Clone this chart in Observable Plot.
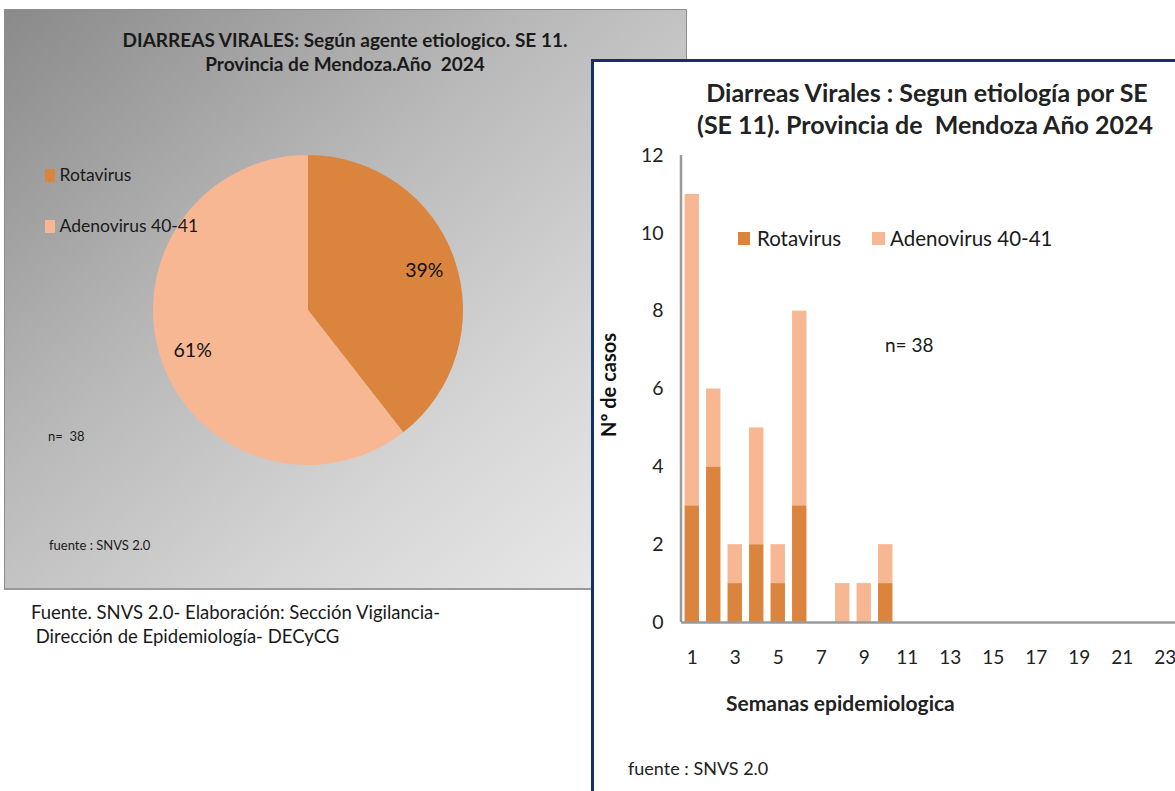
<!DOCTYPE html>
<html>
<head>
<meta charset="utf-8">
<script src="https://cdn.jsdelivr.net/npm/d3@7"></script>
<script src="https://cdn.jsdelivr.net/npm/@observablehq/plot@0.6"></script>
<style>
  html, body { margin:0; padding:0; width:1175px; height:791px; overflow:hidden; background:#fff; font-family: Lato, "Open Sans", sans-serif; color:#1a1a1a; }
  .abs { position:absolute; white-space:pre; line-height:1; }
  #leftPanel { position:absolute; left:4px; top:9px; width:681px; height:578px;
    background: linear-gradient(to bottom right, #8a8a8a 0%, #b9b9b9 40%, #d6d6d6 70%, #ececec 100%);
    border:1px solid #8c8c8c; border-bottom:2px solid #9a9a9a; }
  #rightPanel { position:absolute; left:591px; top:59px; width:700px; height:800px; background:#fff;
    border-top:3px solid #12306a; border-left:3px solid #12306a; z-index:2; }
  .sq { position:absolute; }
</style>
</head>
<body>
<script>
// ---------- data ----------
const categorias = ["Rotavirus", "Adenovirus 40-41"];
const colores = ["#DB843D", "#F8B793"];
const semanas = [1, 2, 3, 4, 5, 6, 7, 8, 9, 10];
const rotavirus = [3, 4, 1, 2, 1, 3, 0, 0, 0, 1];
const adenovirus = [8, 2, 1, 3, 1, 5, 0, 1, 1, 1];
const semanasEje = [1,2,3,4,5,6,7,8,9,10,11,12,13,14,15,16,17,18,19,20,21,22,23,24,25,26];
const xTicks = [1,3,5,7,9,11,13,15,17,19,21,23];
const yTicks = [0, 2, 4, 6, 8, 10, 12];
const totalCasos = 38;

// ---------- helpers ----------
function addText(parent, txt, x, cy, fs, style) {
  const d = document.createElement("div");
  d.className = "abs";
  d.textContent = txt;
  d.style.left = x + "px";
  d.style.top = (cy - 0.53 * fs) + "px";
  d.style.fontSize = fs + "px";
  Object.assign(d.style, style || {});
  parent.appendChild(d);
  return d;
}
function addSq(parent, x, y, w, h, color) {
  const s = document.createElement("div");
  s.className = "sq";
  Object.assign(s.style, {left: x + "px", top: y + "px", width: w + "px", height: h + "px", background: color});
  parent.appendChild(s);
}

// ---------- left panel ----------
const left = document.createElement("div");
left.id = "leftPanel";
document.body.appendChild(left);

// pie
const totals = [d3.sum(rotavirus), d3.sum(adenovirus)];
const arcs = d3.pie().sort(null)(totals).map((a, i) => ({
  ...a, cat: categorias[i], mid: (a.startAngle + a.endAngle) / 2,
  pct: Math.round(100 * a.value / d3.sum(totals)) + "%"
}));

const pie = Plot.plot({
  width: 320, height: 320,
  margin: 5,
  x: {domain: [-1, 1], axis: null},
  y: {domain: [-1, 1], axis: null},
  style: {fontFamily: "Lato, sans-serif", background: "transparent", overflow: "visible"},
  marks: [
    (index, scales) => {
      const cx = scales.x(0), cy = scales.y(0), r = scales.x(1) - cx;
      const g = d3.create("svg:g").attr("transform", `translate(${cx},${cy})`);
      g.selectAll("path").data(arcs).join("path")
        .attr("d", d3.arc().innerRadius(0).outerRadius(r))
        .attr("fill", (d, i) => colores[i]);
      return g.node();
    },
    Plot.text(arcs, {
      x: d => 0.79 * Math.sin(d.mid),
      y: d => 0.79 * Math.cos(d.mid),
      text: "pct", fontSize: 19.5, fill: "#111"
    })
  ]
});
pie.style.position = "absolute";
pie.style.left = "148px";
pie.style.top = "150px";
pie.style.maxWidth = "none";
document.body.appendChild(pie);

// titles
addText(document.body, "DIARREAS VIRALES: Según agente etiologico. SE 11.", 0, 40, 19, {fontWeight:"700", width:"690px", textAlign:"center"});
addText(document.body, "Provincia de Mendoza.Año  2024", 0, 64, 19, {fontWeight:"700", width:"690px", textAlign:"center"});

// legend left
addSq(document.body, 45, 169, 10, 13, colores[0]);
addText(document.body, categorias[0], 59.5, 175, 17.5);
addSq(document.body, 45, 220, 10, 13, colores[1]);
addText(document.body, categorias[1], 59.5, 226, 17.5);

addText(document.body, "n=  " + totalCasos, 48, 437, 13);
addText(document.body, "fuente : SNVS 2.0", 49, 546, 13);
addText(document.body, "Fuente. SNVS 2.0- Elaboración: Sección Vigilancia-", 31, 613, 18.5);
addText(document.body, " Dirección de Epidemiología- DECyCG", 31, 637, 18.5);

// ---------- right panel ----------
const right = document.createElement("div");
right.id = "rightPanel";
document.body.appendChild(right);
// right panel content origin: page (594, 62)
const OX = 594, OY = 62;
const R = (txt, x, cy, fs, style) => addText(right, txt, x - OX, cy - OY, fs, style);

R("Diarreas Virales : Segun etiología por SE", 927 - 400, 93, 25, {fontWeight:"700", width:"800px", textAlign:"center", color:"#222"});
R("(SE 11). Provincia de  Mendoza Año 2024", 925 - 400, 125, 25, {fontWeight:"700", width:"800px", textAlign:"center", color:"#222"});

addSq(right, 738 - OX, 232 - OY, 12, 13, colores[0]);
R(categorias[0], 757, 239, 20.5);
addSq(right, 872 - OX, 232 - OY, 13, 13, colores[1]);
R(categorias[1], 890, 239, 20.5);

R("n= " + totalCasos, 885, 345, 19);
R("Semanas epidemiologica", 726, 703, 21, {fontWeight:"700", color:"#222"});
R("fuente : SNVS 2.0", 628, 769, 18, {color:"#222"});

R("Nº de casos", 608 - 60, 386, 20, {fontWeight:"700", transform:"rotate(-90deg)", transformOrigin:"center", width:"120px", textAlign:"center", color:"#111"});

const rows = [];
semanas.forEach((w, i) => {
  rows.push({semana: w, tipo: categorias[0], casos: rotavirus[i]});
  rows.push({semana: w, tipo: categorias[1], casos: adenovirus[i]});
});

const step = 21.5;
const mLeft = 87;
const bar = Plot.plot({
  width: mLeft + step * semanasEje.length + 14,
  height: 729,
  marginLeft: mLeft,
  marginTop: 93,
  marginBottom: 169,
  marginRight: 14,
  style: {fontFamily: "Lato, sans-serif", fontSize: "19px", color: "#222", background: "transparent"},
  x: {type: "band", domain: semanasEje, paddingInner: 0.33, paddingOuter: 0.165, round: false},
  y: {domain: [0, 12]},
  color: {domain: categorias, range: colores},
  marks: [
    Plot.barY(rows, {x: "semana", y: "casos", fill: "tipo"}),
    Plot.ruleY([0], {stroke: "#9a9a9a", strokeWidth: 2.5}),
    (index, scales, values, dimensions) => {
      const x0 = dimensions.marginLeft;
      return d3.create("svg:line")
        .attr("x1", x0).attr("x2", x0)
        .attr("y1", scales.y(12)).attr("y2", scales.y(0))
        .attr("stroke", "#9a9a9a").attr("stroke-width", 2.5).node();
    },
    Plot.axisX({ticks: xTicks, tickSize: 0, tickPadding: 28, fontSize: 19, label: null}),
    Plot.axisY({ticks: yTicks, tickSize: 0, tickPadding: 18, fontSize: 19.5, label: null})
  ]
});
bar.style.position = "absolute";
bar.style.left = "0px";
bar.style.top = "0px";
bar.style.maxWidth = "none";
right.appendChild(bar);
</script>
</body>
</html>
